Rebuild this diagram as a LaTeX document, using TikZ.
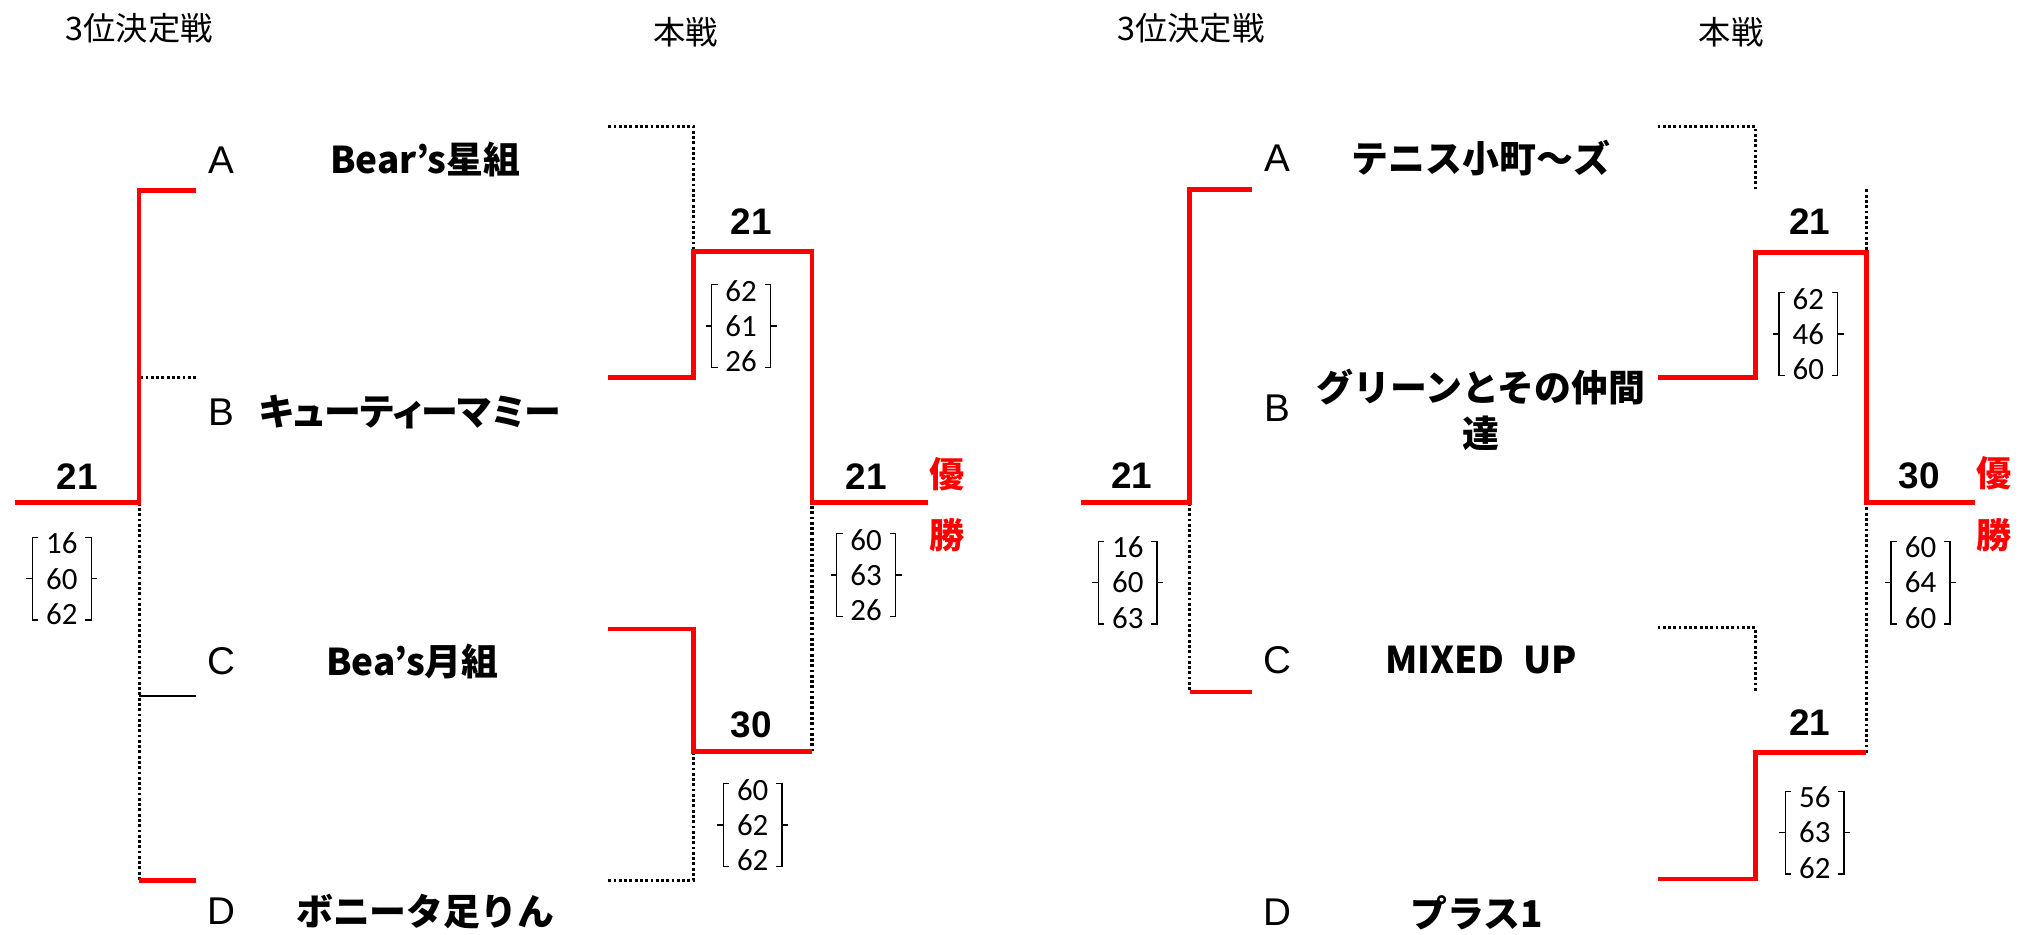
\documentclass[tikz,border=0pt]{standalone}
\usepackage{fontspec}
\setmainfont{Liberation Sans}
\newfontfamily\jpfont{Noto Sans CJK JP}
\newfontfamily\numfont{Carlito}
\usetikzlibrary{calc}

\tikzset{
  win/.style={red, line width=1.3pt},
  lose/.style={line width=0.9pt, dash pattern=on 0.8pt off 0.7pt},
  head/.style={font=\jpfont\fontsize{9.2}{12}\selectfont},
  slot/.style={font=\fontsize{11}{13}\selectfont},
  team/.style={font=\jpfont\bfseries\fontsize{10.5}{13}\selectfont, align=center},
  score/.style={font=\bfseries\fontsize{10.5}{12}\selectfont},
  sets/.style={font=\numfont\fontsize{8.8}{10}\selectfont, align=center, inner xsep=1.3mm, inner ysep=0pt},
  champ/.style={text=red, font=\jpfont\bfseries\fontsize{10}{12}\selectfont},
}
% bracket round a set of game scores
\newcommand{\scorebrk}[1]{%
  \draw[line width=0.4pt] ([xshift=0.6mm,yshift=-0.5mm]#1.north west) -- ([yshift=-0.5mm]#1.north west)
    -- ([yshift=0.5mm]#1.south west) -- ([xshift=0.6mm,yshift=0.5mm]#1.south west);
  \draw[line width=0.4pt] (#1.west) -- ++(-0.6mm,0);
  \draw[line width=0.4pt] ([xshift=-0.6mm,yshift=-0.5mm]#1.north east) -- ([yshift=-0.5mm]#1.north east)
    -- ([yshift=0.5mm]#1.south east) -- ([xshift=-0.6mm,yshift=0.5mm]#1.south east);
  \draw[line width=0.4pt] (#1.east) -- ++(0.6mm,0);
}

\begin{document}
\begin{tikzpicture}[x=0.12889mm,y=-0.12889mm]
\useasboundingbox (0,0) rectangle (1568,724.7);

% ---- left: headings, slots, teams
\node[head] (h3l) at (108,22) {3位決定戦};
\node[head] (hml) at (532,25) {本戦};
\node[slot] (lA) at (172,124) {A};
\node[slot] (lB) at (172,320) {B};
\node[slot] (lC) at (172,513) {C};
\node[slot] (lD) at (172,707) {D};
\node[team] (lta) at (330,124) {Bear’s星組};
\node[team] (ltb) at (318,320) {\addfontfeatures{RawFeature=+palt}キューティーマミー};
\node[team] (ltc) at (320,513) {Bea’s月組};
\node[team] (ltd) at (330,707) {ボニータ足りん};

% left: 3rd place
\coordinate (la3) at (152,148);
\coordinate (lb3) at (152,293);
\coordinate (lc3) at (152,540);
\coordinate (ld3) at (152,683);
\coordinate (l3w) at (108,390);
\coordinate (l3e) at (12,390);
\draw[lose] (lb3) -- (lb3 -| l3w);
\draw[lose] (l3w) -- (l3w |- ld3);
\draw[line width=0.5pt] (lc3) -- (lc3 -| l3w);
\draw[win] (la3) -| (l3w) -- (l3e);
\draw[win] (ld3) -- (ld3 -| l3w);

% left: main
\coordinate (lam) at (472,98);
\coordinate (lbm) at (472,293);
\coordinate (lcm) at (472,488);
\coordinate (ldm) at (472,683);
\coordinate (ls1) at (538,195);
\coordinate (ls2) at (538,583);
\coordinate (lf) at (630,390);
\coordinate (lfe) at (720,390);
\draw[lose] (lam) -| (ls1);
\draw[lose] (ldm) -| (ls2);
\draw[lose] (ls2 -| lf) -- (lf);
\draw[win] (lbm) -| (ls1) -| (lf) -- (lfe);
\draw[win] (lcm) -| (ls2) -- (ls2 -| lf);

\node[score] (ls3) at (60,370) {21};
\node[sets] (lg3) at (48,449) {16\\60\\62};
\scorebrk{lg3}
\node[score] (lsa) at (583,172) {21};
\node[sets] (lga) at (575,253) {62\\61\\26};
\scorebrk{lga}
\node[score] (lsb) at (583,562) {30};
\node[sets] (lgb) at (584,640) {60\\62\\62};
\scorebrk{lgb}
\node[score] (lsf) at (672,370) {21};
\node[sets] (lgf) at (672,446) {60\\63\\26};
\scorebrk{lgf}
\node[champ] (lw1) at (735,368) {優};
\node[champ] (lw2) at (735,415) {勝};

% ---- right: headings, slots, teams
\node[head] (h3r) at (924,22) {3位決定戦};
\node[head] (hmr) at (1343,25) {本戦};
\node[slot] (rA) at (991,123) {A};
\node[slot] (rB) at (991,317) {B};
\node[slot] (rC) at (991,512) {C};
\node[slot] (rD) at (991,708) {D};
\node[team] (rta) at (1149,123) {テニス小町～ズ};
\node[team] (rtb) at (1149,318) {グリーンとその仲間\\達};
\node[team] (rtc) at (1149,512) {MIXED\enspace UP};
\node[team] (rtd) at (1146,708) {プラス1};

% right: 3rd place
\coordinate (ra3) at (971,147);
\coordinate (rc3) at (971,537);
\coordinate (r3w) at (923,390);
\coordinate (r3e) at (839,390);
\draw[lose] (r3w) -- (r3w |- rc3);
\draw[win] (ra3) -| (r3w) -- (r3e);
\draw[win] (rc3) -- (rc3 -| r3w);

% right: main
\coordinate (ram) at (1286,98);
\coordinate (rbm) at (1286,293);
\coordinate (rcm) at (1286,487);
\coordinate (rdm) at (1286,682);
\coordinate (rat) at (1362,147);
\coordinate (rct) at (1362,537);
\coordinate (rs1) at (1362,196);
\coordinate (rs2) at (1362,584);
\coordinate (rf) at (1448,390);
\coordinate (rft) at (1448,147);
\coordinate (rfe) at (1532,390);
\draw[lose] (ram) -| (rat);
\draw[lose] (rcm) -| (rct);
\draw[lose] (rft) -- (rs1 -| rf);
\draw[lose] (rs2 -| rf) -- (rf);
\draw[win] (rbm) -| (rs1) -| (rf) -- (rfe);
\draw[win] (rdm) -| (rs2) -- (rs2 -| rf);

\node[score] (rs3) at (878,369) {21};
\node[sets] (rg3) at (875,452) {16\\60\\63};
\scorebrk{rg3}
\node[score] (rsa) at (1404,172) {21};
\node[sets] (rga) at (1403,259) {62\\46\\60};
\scorebrk{rga}
\node[score] (rsb) at (1404,561) {21};
\node[sets] (rgb) at (1408,646) {56\\63\\62};
\scorebrk{rgb}
\node[score] (rsf) at (1489,369) {30};
\node[sets] (rgf) at (1490,452) {60\\64\\60};
\scorebrk{rgf}
\node[champ] (rw1) at (1547,367) {優};
\node[champ] (rw2) at (1547,415) {勝};
\end{tikzpicture}
\end{document}
